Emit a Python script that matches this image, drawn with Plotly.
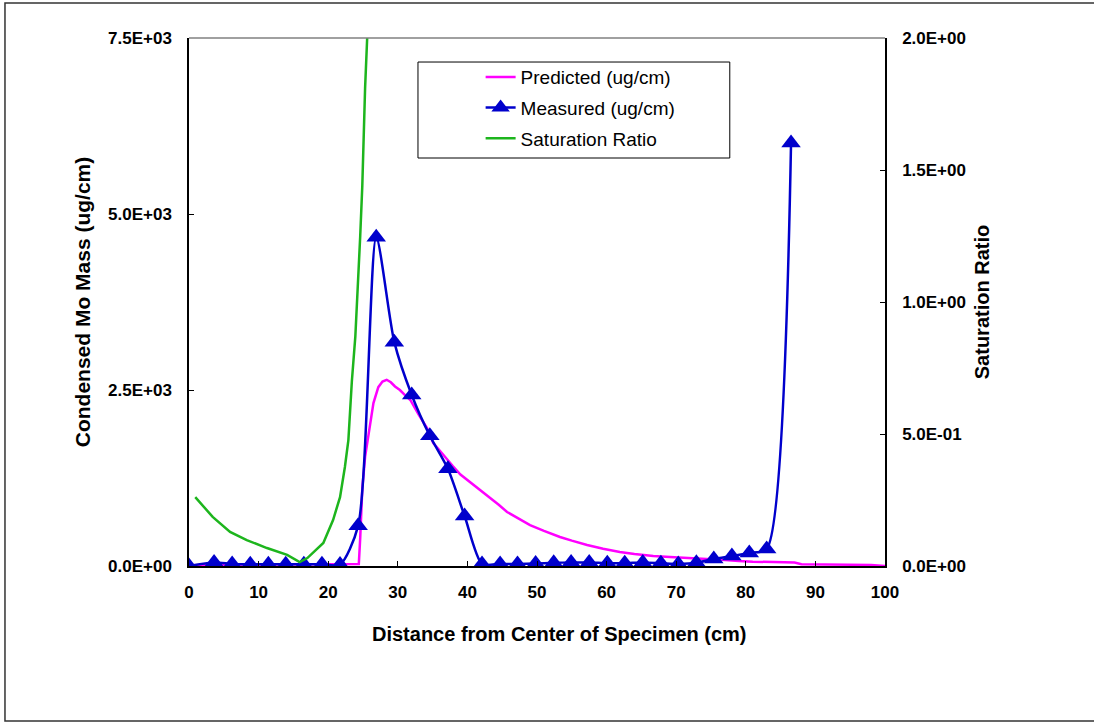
import plotly.graph_objects as go

# ---------------- data ----------------
pred_x = [0, 2, 5, 8, 11, 14, 17, 20, 22, 24.0, 24.4, 24.6, 24.9, 25.3, 25.7, 26.1, 26.5, 27.2,
          27.8, 28.4, 29.0, 29.6, 30.3, 31.0, 31.8, 33.0, 34.2, 35.1, 36.5, 37.9, 39.0, 40.4,
          41.8, 43.2, 44.5, 45.7, 47.0, 49.0, 51.0, 53.3, 55.0, 57.2, 59.5, 61.9, 64.0, 66.7,
          69.1, 71.0, 73.0, 75.0, 77.0, 79.0, 81.0, 84.0, 87.0, 88.0, 91.0, 95.0, 98.0, 100.0]
pred_y = [10, 15, 20, 20, 20, 20, 20, 20, 20, 25, 30, 400, 1100, 1550, 1790, 2050, 2315, 2540,
          2620, 2645, 2610, 2550, 2500, 2430, 2358, 2150, 1960, 1747, 1580, 1420, 1300, 1193,
          1080, 980, 870, 767, 690, 582, 500, 412, 360, 298, 245, 199, 170, 142,
          128, 120, 110, 100, 85, 70, 60, 57, 50, 25, 20, 18, 15, 0]

meas_x = [0, 3.6, 6.2, 8.8, 11.4, 13.9, 16.5, 19.1, 21.7, 24.3, 26.9, 29.5, 32.0, 34.6, 37.2,
          39.6, 42.1, 44.7, 47.2, 49.8, 52.4, 54.9, 57.5, 60.1, 62.6, 65.2, 67.8, 70.3, 72.9,
          75.4, 78.0, 80.5, 83.0, 86.5]
meas_y = [0, 50, 30, 25, 25, 25, 25, 25, 20, 570, 4670, 3180, 2430, 1850, 1380,
          710, 30, 30, 30, 35, 45, 50, 50, 40, 40, 50, 40, 30, 45,
          100, 142, 185, 241, 6010]

sat_x = [0.9, 3.4, 5.9, 8.3, 11.2, 14.1, 15.9, 17.0, 19.3, 20.7, 21.7, 22.4, 22.9, 23.4,
         23.9, 24.3, 24.6, 24.9, 25.0, 25.3, 25.6]
sat_y = [0.261, 0.186, 0.129, 0.098, 0.068, 0.042, 0.015, 0.030, 0.087, 0.174, 0.261, 0.375,
         0.477, 0.70, 0.87, 1.06, 1.25, 1.44, 1.56, 1.81, 2.0]

x_ticks = [0, 10, 20, 30, 40, 50, 60, 70, 80, 90, 100]
left_tickvals = [0, 2500, 5000, 7500]
left_ticktext = ["0.0E+00", "2.5E+03", "5.0E+03", "7.5E+03"]
right_tickvals = [0, 0.5, 1.0, 1.5, 2.0]
right_ticktext = ["0.0E+00", "5.0E-01", "1.0E+00", "1.5E+00", "2.0E+00"]

FONT = "Arial, 'Liberation Sans', sans-serif"

fig = go.Figure()
fig.add_trace(go.Scatter(x=pred_x, y=pred_y, mode="lines", name="Predicted (ug/cm)",
                         legendgroup="a", line=dict(color="#FF00FF", width=2.5)))
fig.add_trace(go.Scatter(x=meas_x, y=meas_y, mode="lines+markers", name="Measured (ug/cm)",
                         legendgroup="b",
                         line=dict(color="#0000CC", width=2.5, shape="spline", smoothing=0.7),
                         marker=dict(symbol="triangle-up", size=17, color="#0000CC")))
fig.add_trace(go.Scatter(x=sat_x, y=sat_y, mode="lines", name="Saturation Ratio",
                         legendgroup="c", yaxis="y2",
                         line=dict(color="#1DB51D", width=2.5)))

tickfont = dict(family=FONT, size=17, color="black", weight="bold")
titlefont = dict(family=FONT, size=20, color="black", weight="bold")
ytitlefont = dict(family=FONT, size=21, color="black", weight="bold")

fig.update_layout(
    width=1094, height=723,
    margin=dict(l=189, r=209, t=38, b=157),
    paper_bgcolor="white", plot_bgcolor="white",
    font=dict(family=FONT, color="black"),
    xaxis=dict(range=[0, 100], tickvals=x_ticks, showgrid=False, zeroline=False,
               showline=True, linecolor="black", linewidth=1.5,
               ticks="inside", ticklen=5, tickcolor="black", tickwidth=1,
               tickfont=tickfont, ticklabelstandoff=10),
    yaxis=dict(range=[0, 7500], tickvals=left_tickvals, ticktext=left_ticktext,
               showgrid=False, zeroline=False,
               showline=True, linecolor="black", linewidth=1.5,
               ticks="inside", ticklen=5, tickcolor="black", tickwidth=1,
               tickfont=tickfont, ticklabelstandoff=12,
               title=dict(text="Condensed Mo Mass (ug/cm)", font=ytitlefont, standoff=12)),
    yaxis2=dict(range=[0, 2], tickvals=right_tickvals, ticktext=right_ticktext,
                overlaying="y", side="right", showgrid=False, zeroline=False,
                showline=True, linecolor="black", linewidth=1.5,
                ticks="inside", ticklen=5, tickcolor="black", tickwidth=1,
                tickfont=tickfont, ticklabelstandoff=12,
                title=dict(text="Saturation Ratio", font=titlefont, standoff=10)),
    showlegend=True,
    legend=dict(x=0.419, y=0.962, xanchor="left", yanchor="top",
                bgcolor="rgba(0,0,0,0)", borderwidth=0, tracegroupgap=3,
                font=dict(family=FONT, size=19, color="black")),
    annotations=[
        dict(text="Distance from Center of Specimen (cm)", xref="paper", yref="paper",
             x=0.533, y=-0.129, xanchor="center", yanchor="middle", showarrow=False,
             font=titlefont),
    ],
    shapes=[
        # plot-area top border
        dict(type="line", xref="paper", yref="paper", x0=0, x1=1, y0=1, y1=1,
             line=dict(color="#808080", width=1.5)),
        # legend box
        dict(type="rect", xref="paper", yref="paper", x0=0.329, x1=0.777, y0=0.7727, y1=0.9545,
             line=dict(color="black", width=1), fillcolor="rgba(0,0,0,0)", layer="below"),
        # chart-area border
        dict(type="rect", xref="paper", yref="paper", x0=-0.2644, x1=1.33, y0=-0.2936, y1=1.0663,
             line=dict(color="#333333", width=1.5), fillcolor="rgba(0,0,0,0)"),
    ],
)

fig.write_html("out.html")
